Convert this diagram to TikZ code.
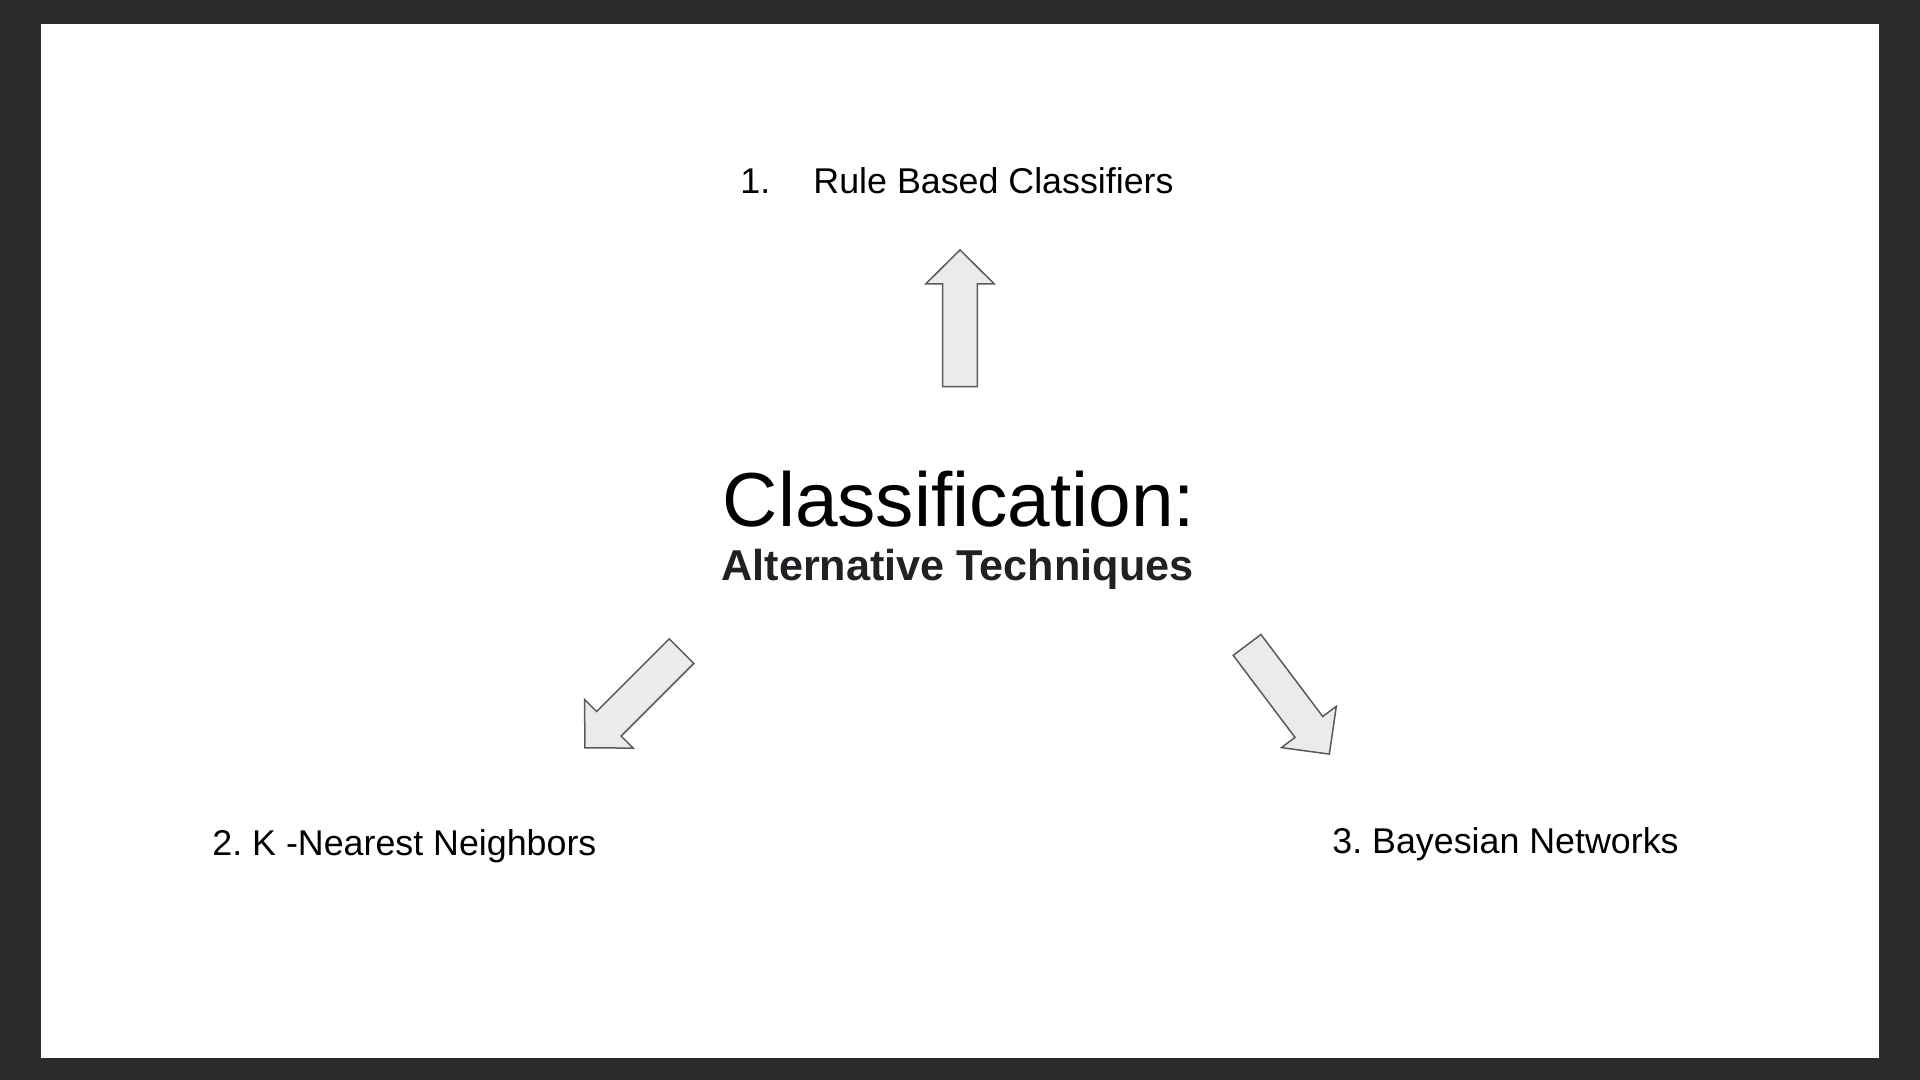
\documentclass[tikz,border=0pt]{standalone}
\usepackage{fontspec}
\setmainfont{Liberation Sans}
\frenchspacing
\definecolor{frame}{HTML}{2B2B2B}
\definecolor{arrowfill}{HTML}{EBEBEB}
\definecolor{arrowline}{HTML}{5A5A5A}
\definecolor{subtext}{HTML}{202124}
\tikzset{
  item/.style={anchor=base west, inner sep=0pt, font=\fontsize{17.9}{21}\selectfont},
  bigarrow/.pic={
    \draw[fill=arrowfill, draw=arrowline, line width=0.75pt, line join=miter]
      (-68.35,-17.35) -- (34.35,-17.35) -- (34.35,-34.35) -- (68.35,0)
      -- (34.35,34.35) -- (34.35,17.35) -- (-68.35,17.35) -- cycle;
  }
}
\begin{document}
\begin{tikzpicture}[x=0.5pt, y=-0.5pt]
    % Slide
    \fill[frame] (0,0) rectangle (1920,1080);
    \fill[white] (41,24.5) rectangle (1879,1058);

    % Title
    \node[anchor=base, inner sep=0pt, font=\fontsize{38.3}{46}\selectfont] (title) at (959,526) {Classification:};
    \node[anchor=base, inner sep=0pt, text=subtext, font=\bfseries\fontsize{21.6}{26}\selectfont] (subtitle) at (957.5,580) {Alternative Techniques};

    % Techniques
    \node[item] (rule) at (740,194) {1.\hspace{21.6pt}Rule Based Classifiers};
    \node[item] (knn) at (212,855) {2. K -Nearest Neighbors};
    \node[item] (bayes) at (1332,853) {3. Bayesian Networks};

    % Arrows
    \pic[rotate=90] (uparrow) at (960,318.3) {bigarrow};
    \pic[rotate=225] (leftarrow) at (633.2,699.5) {bigarrow};
    \pic[rotate=-53] (rightarrow) at (1288.2,699.5) {bigarrow};
\end{tikzpicture}
\end{document}
